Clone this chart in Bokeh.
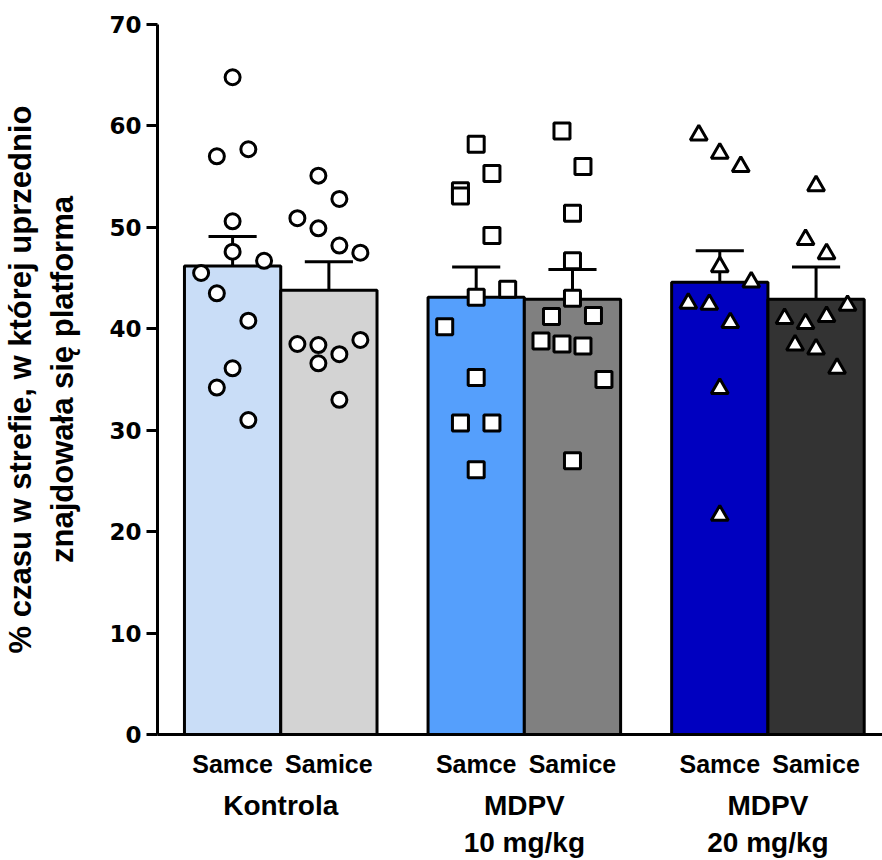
from bokeh.plotting import figure
from bokeh.models import FixedTicker, LinearAxis, Range1d
from bokeh.embed import file_html
from bokeh.resources import INLINE

# ---- data ----
groups = ["Kontrola", "MDPV\n10 mg/kg", "MDPV\n20 mg/kg"]
sexes = ["Samce", "Samice"]
y_ticks = [0, 10, 20, 30, 40, 50, 60, 70]

means = [46.2, 43.8, 43.1, 42.9, 44.6, 42.9]
sems = [2.9, 2.8, 3.0, 2.95, 3.1, 3.2]

kon_m = [64.8, 57.0, 57.7, 50.6, 47.6, 46.7, 45.5, 43.5, 40.8, 36.1, 34.2, 31.0]
kon_f = [55.1, 52.8, 50.9, 49.9, 48.2, 47.5, 38.5, 38.4, 36.6, 37.5, 38.9, 33.0]
m10_m = [58.2, 55.3, 53.6, 53.1, 49.2, 43.1, 43.9, 40.2, 35.2, 30.7, 30.7, 26.1]
m10_f = [59.5, 56.0, 51.4, 46.7, 43.0, 41.2, 41.3, 38.8, 38.5, 38.3, 35.0, 27.0]
m20_m = [59.1, 57.3, 56.0, 46.1, 44.6, 42.5, 42.4, 40.6, 34.1, 21.6]
m20_f = [54.1, 48.8, 47.4, 42.3, 41.0, 40.5, 41.2, 38.4, 38.0, 36.1]

# swarm column index of each point (unit = one swarm slot)
kon_m_col = [0, -1.5, 1.5, 0, 0, 3, -3, -1.5, 1.5, 0, -1.5, 1.5]
kon_f_col = [-1, 1, -3, -1, 1, 3, -3, -1, -1, 1, 3, 1]
m10_m_col = [0, 1.5, -1.5, -1.5, 1.5, 0, 3, -3, 0, -1.5, 1.5, 0]
m10_f_col = [-1, 1, 0, 0, 0, -2, 2, -3, -1, 1, 3, 0]
m20_m_col = [-2, 0, 2, 0, 3, -3, -1, 1, 0, 0]
m20_f_col = [0, -1, 1, 3, -3, -1, 1, -2, 0, 2]

points = [kon_m, kon_f, m10_m, m10_f, m20_m, m20_f]
cols = [kon_m_col, kon_f_col, m10_m_col, m10_f_col, m20_m_col, m20_f_col]

# ---- style ----
colors = ["#c9ddf7", "#d3d3d3", "#559ffc", "#808080", "#0000c0", "#333333"]
markers = ["circle", "circle", "square", "square", "triangle", "triangle"]
msizes = [15, 15, 16, 16, 17, 17]
GROUP_STEP = 2.53
SLOT = 0.109
CAP = 0.5
FONT = "Liberation Sans"

bar_x = [g * GROUP_STEP + s for g in range(len(groups)) for s in range(len(sexes))]
group_x = [g * GROUP_STEP + 0.5 for g in range(len(groups))]

p = figure(width=882, height=860, output_backend="svg", toolbar_location=None,
           x_range=Range1d(-0.78, 6.75), y_range=Range1d(0, 70),
           min_border_left=155, min_border_right=0, min_border_top=24,
           min_border_bottom=10, background_fill_color="white",
           border_fill_color="white")
p.outline_line_color = None
p.grid.visible = False

# bars
p.vbar(x=bar_x, top=means, bottom=0, width=1.0, fill_color=colors,
       line_color="black", line_width=3)

# error bars (upper only)
tops = [m + s for m, s in zip(means, sems)]
p.segment(x0=bar_x, y0=means, x1=bar_x, y1=tops, line_color="black", line_width=3)
p.segment(x0=[x - CAP / 2 for x in bar_x], y0=tops, x1=[x + CAP / 2 for x in bar_x],
          y1=tops, line_color="black", line_width=3)

# individual points
for i, (vals, cc) in enumerate(zip(points, cols)):
    xs = [bar_x[i] + c * SLOT for c in cc]
    p.scatter(x=xs, y=vals, marker=markers[i], size=msizes[i], fill_color="white",
              line_color="black", line_width=3)

# y axis
p.yaxis.ticker = FixedTicker(ticks=y_ticks)
p.yaxis.axis_line_width = 3
p.yaxis.major_tick_line_width = 3
p.yaxis.major_tick_out = 11
p.yaxis.major_tick_in = 0
p.yaxis.minor_tick_line_color = None
p.yaxis.major_label_text_font = "DejaVu Sans"
p.yaxis.major_label_text_font_style = "bold"
p.yaxis.major_label_text_font_size = "23px"
p.yaxis.major_label_text_color = "black"
p.yaxis.major_label_standoff = 5
p.yaxis.axis_label = "% czasu w strefie, w której uprzednio\nznajdowała się platforma"
p.yaxis.axis_label_text_font = FONT
p.yaxis.axis_label_text_font_style = "bold"
p.yaxis.axis_label_text_font_size = "31px"
p.yaxis.axis_label_text_color = "black"
p.yaxis.axis_label_text_line_height = 1.2
p.yaxis.axis_label_standoff = 26

# x axis: sex labels
p.xaxis.ticker = FixedTicker(ticks=bar_x)
p.xaxis.major_label_overrides = {x: sexes[i % 2] for i, x in enumerate(bar_x)}
p.xaxis.axis_line_width = 3
p.xaxis.major_tick_line_color = None
p.xaxis.major_tick_out = 0
p.xaxis.major_tick_in = 0
p.xaxis.minor_tick_line_color = None
p.xaxis.major_label_text_font = FONT
p.xaxis.major_label_text_font_style = "bold"
p.xaxis.major_label_text_font_size = "25px"
p.xaxis.major_label_text_color = "black"
p.xaxis.major_label_standoff = 15

# second axis: group labels
ax2 = LinearAxis(ticker=FixedTicker(ticks=group_x),
                 major_label_overrides={x: groups[i] for i, x in enumerate(group_x)},
                 axis_line_color=None, major_tick_line_color=None,
                 minor_tick_line_color=None, major_tick_out=0, major_tick_in=0,
                 major_label_text_font=FONT, major_label_text_font_style="bold",
                 major_label_text_font_size="28px", major_label_text_color="black",
                 major_label_text_line_height=1.2,
                 major_label_standoff=9)
p.add_layout(ax2, "below")

open("out.html", "w").write(file_html(p, INLINE))
